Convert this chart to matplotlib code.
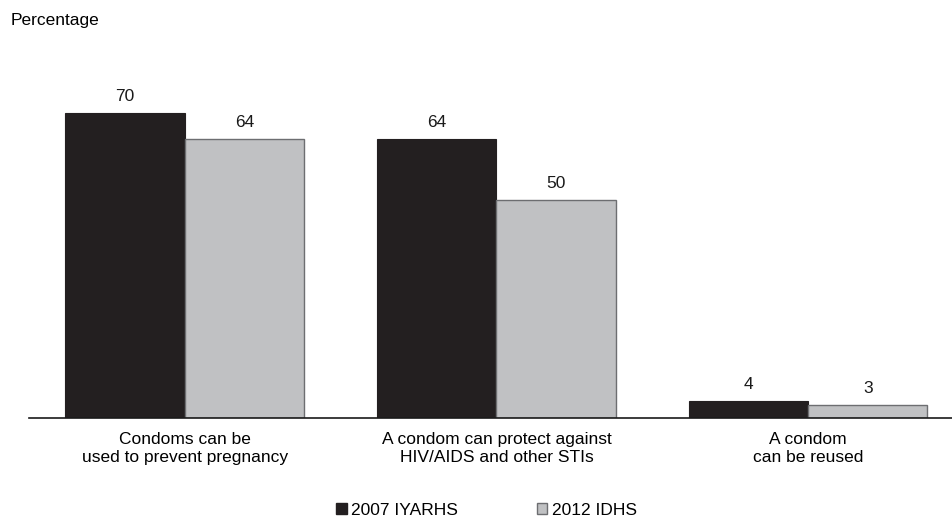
import numpy as np
import matplotlib.pyplot as plt
from matplotlib.patches import Patch

plt.rcParams['font.family'] = ['Liberation Sans', 'DejaVu Sans']

categories = ["Condoms can be\nused to prevent pregnancy",
              "A condom can protect against\nHIV/AIDS and other STIs",
              "A condom\ncan be reused"]
series_names = ["2007 IYARHS", "2012 IDHS"]
vals_2007 = [70, 64, 4]
vals_2012 = [64, 50, 3]

dark = '#231f20'
light = '#c0c1c3'
light_edge = '#6d6e71'
fs = 12.5

fig = plt.figure(figsize=(9.52, 5.21), dpi=100)
ax = fig.add_axes([29 / 952, 103 / 521, 923 / 952, 348.6 / 521])

x = np.arange(len(categories))
w = 0.383
b1 = ax.bar(x - w / 2, vals_2007, w, color=dark, edgecolor=dark, linewidth=0.8)
b2 = ax.bar(x + w / 2, vals_2012, w, color=light, edgecolor=light_edge, linewidth=1)

for bars in (b1, b2):
    for rect in bars:
        h = rect.get_height()
        ax.text(rect.get_x() + rect.get_width() / 2, h + 2.0, f"{h:g}",
                ha='center', va='bottom', fontsize=fs, color='#1a1a1a')

ax.set_xlim(-0.5, 2.462)
ax.set_ylim(0, 80)
ax.set_xticks(x)
ax.set_xticklabels(categories, fontsize=fs, linespacing=1.25)
ax.tick_params(axis='x', length=0, pad=10)
ax.set_yticks([])
for s in ('top', 'right', 'left'):
    ax.spines[s].set_visible(False)
ax.spines['bottom'].set_linewidth(1.2)
ax.spines['bottom'].set_color('#1a1a1a')

fig.text(11 / 952, 1 - 20 / 521, "Percentage", fontsize=fs, va='center', ha='left')

handles = [Patch(facecolor=dark, edgecolor=dark),
           Patch(facecolor=light, edgecolor=light_edge)]
fig.legend(handles, series_names, loc='center', bbox_to_anchor=(0.511, 0.021),
           ncol=2, frameon=False, fontsize=fs, handlelength=0.6, handleheight=0.6,
           handletextpad=0.25, columnspacing=4.55)

fig.savefig('out.png', dpi=100)
